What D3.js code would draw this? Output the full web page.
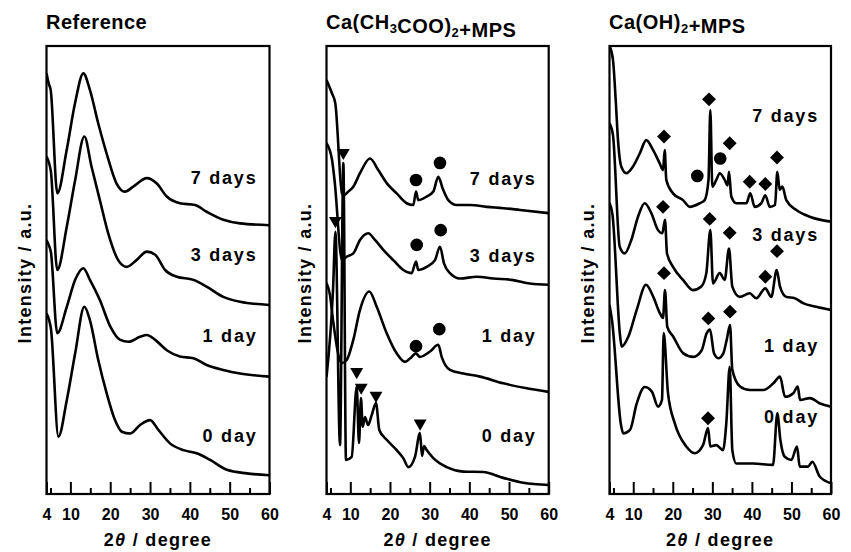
<!DOCTYPE html>
<html>
<head>
<meta charset="utf-8">
<script src="https://cdn.jsdelivr.net/npm/d3@7"></script>
<style>
body { margin: 0; background: #fff; }
text { font-family: "Liberation Sans", Arial, sans-serif; font-weight: bold; fill: #000; }
</style>
</head>
<body>
<script>
// 2theta axis ticks
const angleTicks = [4, 10, 20, 30, 40, 50, 60];
const minorTicks = [5, 15, 25, 35, 45, 55];
const dayLabels = ["7 days", "3 days", "1 day", "0 day"];

// Reference: [2theta, intensity (a.u., offset included)]
const ref7 = [[4,93.9],[4.6,91.5],[5.05,90.2],[6.72,67.1],[9.07,76.8],[11.16,87.2],[13.25,93.9],[14.9,90.2],[17.0,82.7],[19.1,76.0],[21.6,69.3],[23.7,67.5],[25.8,68.6],[29.2,70.5],[31.7,69.3],[34.2,66.4],[37.5,64.9],[41.3,64.5],[44.2,63.0],[48.4,61.2],[52.6,60.4],[60,60.0]];
const ref3 = [[4,75.3],[4.6,74.0],[5.1,72.0],[6.7,50.0],[9.1,59.7],[11.2,70.1],[13.5,79.8],[15.3,73.1],[17.4,65.6],[19.5,58.2],[22.0,52.2],[24.1,50.7],[26.6,52.2],[29.2,54.1],[31.3,53.4],[33.8,50.0],[36.7,48.5],[40.9,47.8],[44.2,46.3],[48.4,44.0],[52.6,42.9],[60,42.2]];
const ref1 = [[4,56.7],[4.6,55.5],[5.1,54.0],[6.7,35.9],[9.1,41.8],[11.2,47.8],[13.25,50.4],[14.9,47.8],[17.4,43.3],[20.0,37.4],[22.5,34.4],[24.6,34.0],[27.5,35.1],[29.2,35.5],[31.3,34.4],[34.2,32.1],[37.5,30.7],[40.9,30.3],[44.2,28.8],[48.4,27.7],[52.6,26.9],[60,26.2]];
const ref0 = [[4,40.3],[4.6,39.0],[5.1,37.0],[7.0,12.8],[9.1,21.0],[11.2,31.4],[13.5,41.8],[14.9,38.8],[17.0,29.9],[19.1,22.5],[21.2,16.5],[22.9,13.9],[25.0,13.5],[27.5,15.4],[30.0,16.5],[32.1,14.3],[35.0,11.3],[38.4,9.8],[41.7,9.1],[45.1,7.6],[49.3,5.4],[54.3,4.6],[60,4.2]];

// Ca(CH3COO)2 + MPS
const ace7 = [[4,92.4],[5.39,89.4],[6.22,87.2],[7.91,67.1],[8.4,66.7],[9.49,67.5],[10.75,68.6],[12.44,71.6],[14.96,74.9],[17.05,72.3],[19.17,69.4],[21.69,67.1],[24.21,64.9],[25.88,64.5],[26.56,67.5],[27.13,65.6],[29.25,66.4],[30.92,67.5],[32.18,70.8],[33.28,68.2],[34.7,65.6],[36.81,64.5],[40.16,64.5],[44.37,64.1],[48.56,63.8],[52.77,63.4],[60,62.7]];
const ace3 = [[4,78.3],[5.39,74.6],[6.02,70.1],[7.91,52.2],[9.09,53.0],[10.75,53.7],[12.44,56.7],[14.53,58.2],[16.22,56.7],[18.31,54.5],[20.83,52.2],[23.35,50.0],[25.47,49.3],[26.56,51.9],[27.13,50.0],[29.25,50.7],[31.34,52.2],[32.6,55.2],[33.61,51.5],[35.12,49.3],[37.64,48.1],[41.85,48.5],[46.04,48.1],[50.67,47.8],[55.29,47.0],[60,46.7]];
const ace1 = [[4,47.1],[4.88,44.4],[5.64,38.8],[7.83,29.2],[9.09,29.9],[10.75,34.4],[12.44,41.1],[14.79,45.2],[16.65,41.8],[19.17,35.9],[21.69,31.4],[23.78,29.5],[25.47,30.6],[26.48,31.4],[27.56,30.6],[30.08,31.8],[32.18,33.3],[33.03,30.6],[35.12,27.7],[38.48,26.9],[42.68,26.2],[48.56,24.7],[54.45,23.6],[60,22.8]];
const ace0 = [[4,26.1],[5.64,45.5],[6.25,58.5],[7.4,10.9],[8.25,73.9],[8.91,7.6],[10.35,8.3],[11.61,24.0],[12.19,11.4],[12.69,21.4],[13.12,15.0],[13.7,17.2],[14.46,15.4],[15.39,17.6],[16.47,20.3],[17.31,14.3],[19.17,12.1],[21.69,9.8],[23.35,8.0],[24.61,6.0],[26.3,8.3],[27.56,13.6],[28.07,8.5],[28.57,10.7],[29.25,9.8],[30.92,8.0],[34.29,6.0],[38.48,5.0],[43.52,4.9],[48.56,3.6],[53.6,2.5],[60,2.0]];
const aceTriangles = [[8.25,76.2],[6.25,61.0],[11.61,27.3],[12.75,23.8],[16.47,22.0],[27.6,15.8]];
const aceDots = [[26.56,70.1],[32.6,73.9],[26.73,55.6],[32.78,58.9],[26.56,33.0],[32.43,36.8]];

// Ca(OH)2 + MPS
const hyd7 = [[4,100],[4.88,96.9],[5.57,87.9],[6.15,79.0],[6.98,73.1],[8.25,71.6],[9.94,73.1],[11.64,76.0],[13.3,79.0],[15.0,76.8],[16.69,73.8],[17.53,72.3],[17.96,76.8],[18.36,70.1],[20.06,67.1],[22.58,65.6],[24.28,64.1],[26.81,64.9],[28.07,65.6],[29.03,70.1],[29.49,85.7],[30.0,68.6],[31.0,70.1],[31.86,71.6],[33.13,70.1],[33.84,68.9],[34.21,71.9],[34.8,66.4],[36.06,64.9],[38.59,64.9],[39.6,67.1],[40.71,64.1],[42.38,64.9],[43.39,66.7],[44.51,64.1],[45.85,64.5],[46.43,71.9],[47.03,67.9],[47.69,68.6],[48.7,65.6],[51.23,63.4],[54.62,61.9],[60,60.8]];
const hyd3 = [[4,82.7],[4.88,80.1],[6.58,55.2],[7.84,53.7],[9.51,56.7],[11.21,61.9],[12.9,64.9],[14.57,62.7],[16.26,58.9],[17.35,58.2],[18.03,61.2],[18.54,53.7],[20.06,50.7],[22.58,47.8],[25.11,45.5],[27.21,46.3],[28.48,49.3],[29.49,58.9],[30.17,47.0],[31.86,49.3],[33.13,47.8],[34.21,54.8],[35.05,46.3],[36.92,44.0],[39.45,44.8],[41.12,43.7],[43.39,45.9],[44.91,44.0],[46.28,50.0],[47.11,46.3],[48.7,44.0],[50.83,43.7],[52.93,42.6],[56.29,41.8],[60,41.1]];
const hyd1 = [[4,65.0],[4.76,62.3],[6.65,35.5],[7.08,32.9],[8.75,35.1],[10.88,41.1],[13.23,46.7],[15.07,44.0],[16.77,40.3],[17.53,39.3],[18.03,45.5],[18.61,37.3],[20.13,35.1],[22.66,31.4],[25.19,30.6],[27.31,32.1],[28.58,35.9],[29.41,36.7],[30.42,31.4],[31.51,30.3],[32.77,31.4],[33.63,34.4],[34.47,37.7],[35.05,27.7],[37.0,24.0],[39.52,23.2],[42.89,23.2],[45.42,24.7],[47.11,26.2],[48.37,21.7],[50.47,22.5],[51.59,24.0],[52.17,21.0],[54.7,21.4],[57.23,20.2],[60,19.5]];
const hyd0 = [[4,42.2],[4.63,38.8],[6.91,15.4],[7.49,13.5],[9.18,14.3],[10.88,20.2],[12.9,23.9],[14.75,22.8],[16.26,19.5],[17.27,21.0],[17.7,35.9],[18.79,22.5],[20.49,15.8],[23.42,10.6],[25.54,9.1],[27.64,10.9],[28.91,14.7],[29.49,10.6],[31.0,10.9],[32.7,9.8],[33.53,15.8],[34.39,28.4],[35.05,9.8],[36.06,6.8],[40.28,6.8],[45.34,6.5],[46.43,18.0],[47.19,12.1],[48.3,8.3],[49.97,7.6],[51.41,10.6],[52.09,6.1],[54.19,6.1],[55.28,7.2],[57.15,3.9],[60,2.4]];
const hydDiamonds = [[17.78,79.8],[29.16,88.1],[34.39,78.3],[39.45,69.7],[43.39,69.2],[46.35,75.1],
                     [17.53,64.1],[29.33,61.4],[34.39,58.3],[43.39,48.5],[46.35,54.2],
                     [17.78,49.3],[28.98,39.2],[34.47,40.7],[28.91,16.9]];
const hydDots = [[26.2,71.0],[32.0,74.9]];

// layout
const width = 851, height = 552;
const plotTop = 46, plotBottom = 494;

const panels = [
  {title: [{t: "Reference"}], x0: 46.5, x1: 269.5,
   curves: [ref7, ref3, ref1, ref0], labelY: [184, 261, 342, 442],
   marks: []},
  {title: [{t: "Ca(CH"}, {t: "3", sub: true}, {t: "COO)"}, {t: "2", sub: true}, {t: "+MPS"}], x0: 326.5, x1: 548.7,
   curves: [ace7, ace3, ace1, ace0], labelY: [185, 262, 342, 442],
   marks: [{type: "triangle", data: aceTriangles}, {type: "circle", data: aceDots}]},
  {title: [{t: "Ca(OH)"}, {t: "2", sub: true}, {t: "+MPS"}], x0: 609.5, x1: 831,
   curves: [hyd7, hyd3, hyd1, hyd0], labelY: [122, 241, 352, 423],
   marks: [{type: "diamond", data: hydDiamonds}, {type: "circle", data: hydDots}]}
];

const svg = d3.select("body")
    .append("svg")
    .attr("width", width)
    .attr("height", height);

const yScale = d3.scaleLinear().domain([0, 100]).range([plotBottom, plotTop]);

const symbols = {
  triangle: d3.symbol().type(d3.symbolTriangle).size(72),
  circle: d3.symbol().type(d3.symbolCircle).size(125),
  diamond: d3.symbol().type(d3.symbolSquare).size(96)
};
const symbolRotate = {triangle: 180, circle: 0, diamond: 45};

panels.forEach(function(p, i) {
  const xScale = d3.scaleLinear().domain([4, 60]).range([p.x0, p.x1]);
  const g = svg.append("g");

  // clip for the curves
  svg.append("clipPath").attr("id", "clip" + i)
    .append("rect")
    .attr("x", p.x0).attr("y", plotTop)
    .attr("width", p.x1 - p.x0).attr("height", plotBottom - plotTop);

  const line = d3.line()
      .x(d => xScale(d[0]))
      .y(d => yScale(d[1]))
      .curve(d3.curveMonotoneX);

  g.append("g")
    .attr("clip-path", `url(#clip${i})`)
    .selectAll("path")
    .data(p.curves)
    .join("path")
    .attr("d", line)
    .attr("fill", "none")
    .attr("stroke", "#000")
    .attr("stroke-width", 2.6)
    .attr("stroke-linejoin", "round");

  // peak markers
  p.marks.forEach(function(m) {
    g.append("g")
      .selectAll("path")
      .data(m.data)
      .join("path")
      .attr("d", symbols[m.type])
      .attr("transform", d => `translate(${xScale(d[0])},${yScale(d[1])}) rotate(${symbolRotate[m.type]})`)
      .attr("fill", "#000");
  });

  // frame
  g.append("rect")
    .attr("x", p.x0).attr("y", plotTop)
    .attr("width", p.x1 - p.x0).attr("height", plotBottom - plotTop)
    .attr("fill", "none")
    .attr("stroke", "#000")
    .attr("stroke-width", 2.2);

  // x axis, ticks pointing in
  const axis = g.append("g")
    .attr("transform", `translate(0,${plotBottom})`)
    .call(d3.axisBottom(xScale).tickValues(angleTicks).tickSize(-12).tickPadding(15).tickFormat(d3.format("d")));
  axis.select(".domain").remove();
  axis.selectAll("line").attr("stroke-width", 2);
  axis.selectAll("text")
    .attr("font-family", "Liberation Sans, Arial, sans-serif")
    .attr("font-size", "16px")
    .attr("font-weight", "bold");
  axis.attr("font-size", null).attr("font-family", null);

  const minor = g.append("g")
    .attr("transform", `translate(0,${plotBottom})`)
    .call(d3.axisBottom(xScale).tickValues(minorTicks).tickSize(-6).tickFormat(""));
  minor.select(".domain").remove();
  minor.selectAll("line").attr("stroke-width", 2);

  // title
  const title = g.append("text")
    .attr("x", p.x0 - 0.5)
    .attr("y", 29)
    .attr("font-size", "20px")
    .attr("letter-spacing", "0.5px");
  p.title.forEach(function(s) {
    title.append("tspan")
      .attr("font-size", s.sub ? "13px" : null)
      .attr("dy", s.sub ? 4 : 0)
      .text(s.t);
    if (s.sub) title.append("tspan").attr("dy", -4).text("");
  });

  // day labels
  g.selectAll(".day")
    .data(dayLabels)
    .join("text")
    .attr("class", "day")
    .attr("x", p.x1 - 12)
    .attr("y", (d, k) => p.labelY[k])
    .attr("text-anchor", "end")
    .attr("font-size", "18px")
    .attr("letter-spacing", "1.8px")
    .text(d => d);

  // y axis title
  g.append("text")
    .attr("transform", `translate(${p.x0 - 16},273) rotate(-90)`)
    .attr("text-anchor", "middle")
    .attr("font-size", "18px")
    .attr("letter-spacing", "1.3px")
    .text("Intensity / a.u.");

  // x axis title
  const xt = g.append("text")
    .attr("x", (p.x0 + p.x1) / 2)
    .attr("y", 546)
    .attr("text-anchor", "middle")
    .attr("font-size", "18px")
    .attr("letter-spacing", "1.3px");
  xt.append("tspan").text("2");
  xt.append("tspan").attr("font-style", "italic").text("θ");
  xt.append("tspan").text(" / degree");
});
</script>
</body>
</html>
